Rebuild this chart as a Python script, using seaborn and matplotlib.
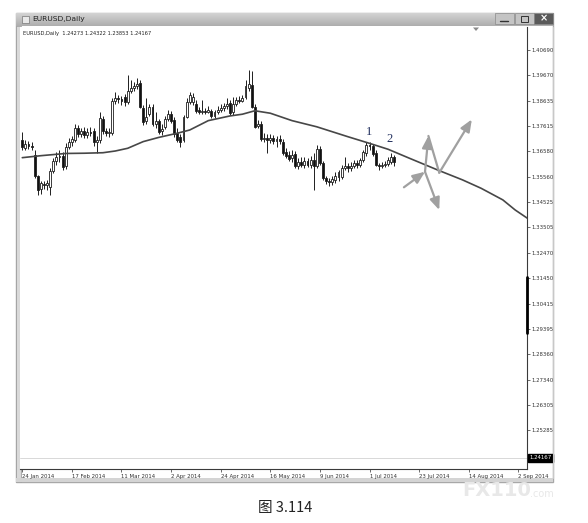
import numpy as np
import pandas as pd
import seaborn as sns
import matplotlib.pyplot as plt
from matplotlib.patches import Rectangle, Polygon

# EURUSD daily candles (bar 0 = 24 Jan 2014)
opens = [1.3705, 1.3672, 1.3688, 1.3680, 1.3644, 1.3559, 1.3506, 1.3526, 1.3522, 1.3514,
         1.3579, 1.3620, 1.3636, 1.3640, 1.3599, 1.3676, 1.3696, 1.3705, 1.3753, 1.3729,
         1.3741, 1.3725, 1.3737, 1.3741, 1.3696, 1.3705, 1.3790, 1.3741, 1.3733, 1.3733,
         1.3863, 1.3875, 1.3871, 1.3879, 1.3858, 1.3903, 1.3915, 1.3923, 1.3935, 1.3834,
         1.3782, 1.3810, 1.3838, 1.3769, 1.3782, 1.3741, 1.3757, 1.3790, 1.3810, 1.3786,
         1.3733, 1.3717, 1.3705, 1.3798, 1.3858, 1.3858, 1.3850, 1.3826, 1.3818, 1.3822,
         1.3818, 1.3822, 1.3802, 1.3818, 1.3826, 1.3834, 1.3842, 1.3854, 1.3818, 1.3850,
         1.3867, 1.3863, 1.3879, 1.3915, 1.3927, 1.3838, 1.3761, 1.3769, 1.3709, 1.3713,
         1.3705, 1.3713, 1.3700, 1.3709, 1.3696, 1.3656, 1.3644, 1.3632, 1.3648, 1.3599,
         1.3615, 1.3603, 1.3620, 1.3603, 1.3624, 1.3599, 1.3668, 1.3611, 1.3549, 1.3538,
         1.3534, 1.3543, 1.3555, 1.3555, 1.3591, 1.3599, 1.3591, 1.3599, 1.3611, 1.3603,
         1.3624, 1.3652, 1.3684, 1.3680, 1.3652, 1.3603, 1.3599, 1.3603, 1.3607, 1.3615, 1.3636]
highs = [1.3737, 1.3705, 1.3700, 1.3696, 1.3664, 1.3563, 1.3538, 1.3538, 1.3543, 1.3591,
         1.3632, 1.3656, 1.3664, 1.3656, 1.3692, 1.3713, 1.3721, 1.3769, 1.3765, 1.3753,
         1.3757, 1.3753, 1.3757, 1.3753, 1.3721, 1.3818, 1.3802, 1.3753, 1.3753, 1.3875,
         1.3899, 1.3887, 1.3883, 1.3891, 1.3968, 1.3948, 1.3939, 1.3956, 1.3948, 1.3846,
         1.3875, 1.3850, 1.3850, 1.3818, 1.3790, 1.3769, 1.3802, 1.3826, 1.3822, 1.3798,
         1.3753, 1.3729, 1.3806, 1.3875, 1.3899, 1.3895, 1.3867, 1.3838, 1.3867, 1.3834,
         1.3842, 1.3830, 1.3826, 1.3842, 1.3850, 1.3854, 1.3875, 1.3867, 1.3879, 1.3879,
         1.3883, 1.3887, 1.3948, 1.3988, 1.3984, 1.3850, 1.3786, 1.3782, 1.3733, 1.3729,
         1.3729, 1.3725, 1.3721, 1.3725, 1.3709, 1.3672, 1.3660, 1.3664, 1.3660, 1.3632,
         1.3636, 1.3636, 1.3632, 1.3640, 1.3652, 1.3684, 1.3680, 1.3620, 1.3559, 1.3551,
         1.3559, 1.3575, 1.3583, 1.3603, 1.3636, 1.3611, 1.3615, 1.3624, 1.3624, 1.3632,
         1.3664, 1.3696, 1.3696, 1.3688, 1.3664, 1.3611, 1.3615, 1.3620, 1.3636, 1.3652, 1.3644]
lows = [1.3664, 1.3664, 1.3668, 1.3664, 1.3551, 1.3482, 1.3486, 1.3506, 1.3502, 1.3482,
        1.3571, 1.3603, 1.3615, 1.3583, 1.3587, 1.3668, 1.3680, 1.3696, 1.3717, 1.3717,
        1.3713, 1.3713, 1.3721, 1.3680, 1.3652, 1.3692, 1.3729, 1.3721, 1.3717, 1.3725,
        1.3850, 1.3854, 1.3846, 1.3842, 1.3850, 1.3895, 1.3903, 1.3911, 1.3834, 1.3765,
        1.3769, 1.3802, 1.3761, 1.3753, 1.3729, 1.3725, 1.3749, 1.3782, 1.3773, 1.3717,
        1.3696, 1.3676, 1.3696, 1.3794, 1.3850, 1.3846, 1.3814, 1.3810, 1.3810, 1.3810,
        1.3814, 1.3794, 1.3794, 1.3810, 1.3818, 1.3822, 1.3830, 1.3806, 1.3806, 1.3842,
        1.3854, 1.3858, 1.3871, 1.3903, 1.3834, 1.3753, 1.3753, 1.3700, 1.3696, 1.3652,
        1.3692, 1.3688, 1.3676, 1.3688, 1.3644, 1.3632, 1.3620, 1.3615, 1.3591, 1.3587,
        1.3595, 1.3591, 1.3595, 1.3591, 1.3502, 1.3591, 1.3603, 1.3541, 1.3526, 1.3518,
        1.3522, 1.3530, 1.3538, 1.3547, 1.3583, 1.3575, 1.3579, 1.3591, 1.3591, 1.3595,
        1.3615, 1.3640, 1.3664, 1.3640, 1.3599, 1.3583, 1.3591, 1.3595, 1.3599, 1.3607, 1.3599]
closes = [1.3676, 1.3688, 1.3680, 1.3676, 1.3559, 1.3502, 1.3530, 1.3522, 1.3530, 1.3579,
          1.3620, 1.3636, 1.3640, 1.3595, 1.3676, 1.3696, 1.3709, 1.3753, 1.3729, 1.3741,
          1.3725, 1.3737, 1.3733, 1.3696, 1.3705, 1.3794, 1.3741, 1.3733, 1.3737, 1.3863,
          1.3875, 1.3871, 1.3863, 1.3858, 1.3903, 1.3915, 1.3923, 1.3931, 1.3838, 1.3777,
          1.3798, 1.3838, 1.3769, 1.3782, 1.3737, 1.3749, 1.3790, 1.3810, 1.3782, 1.3729,
          1.3705, 1.3696, 1.3798, 1.3858, 1.3887, 1.3879, 1.3822, 1.3818, 1.3822, 1.3818,
          1.3826, 1.3802, 1.3818, 1.3826, 1.3834, 1.3842, 1.3850, 1.3814, 1.3850, 1.3867,
          1.3863, 1.3875, 1.3923, 1.3931, 1.3838, 1.3757, 1.3769, 1.3709, 1.3713, 1.3705,
          1.3713, 1.3700, 1.3709, 1.3700, 1.3652, 1.3640, 1.3628, 1.3644, 1.3599, 1.3615,
          1.3603, 1.3620, 1.3603, 1.3624, 1.3599, 1.3668, 1.3611, 1.3549, 1.3538, 1.3534,
          1.3547, 1.3559, 1.3575, 1.3591, 1.3599, 1.3591, 1.3599, 1.3611, 1.3603, 1.3624,
          1.3656, 1.3684, 1.3680, 1.3648, 1.3603, 1.3599, 1.3603, 1.3607, 1.3624, 1.3636, 1.3615]

# moving average (runs on past the last visible candle)
ma_bar = [0, 6, 14, 20, 26, 30, 34, 39, 44, 50, 54, 60, 67, 71, 75, 80, 87, 95, 100,
          105, 112, 118, 125, 134, 142, 148, 155, 159, 163]
ma_val = [1.3633, 1.3641, 1.3650, 1.3651, 1.3653, 1.3660, 1.3671, 1.3698, 1.3715, 1.3732,
          1.3745, 1.3783, 1.3802, 1.3809, 1.3823, 1.3813, 1.3783, 1.3758, 1.3738,
          1.3718, 1.3691, 1.3667, 1.3630, 1.3583, 1.3543, 1.3509, 1.3462, 1.3421, 1.3387]

date_labels = ['24 Jan 2014', '17 Feb 2014', '11 Mar 2014', '2 Apr 2014', '24 Apr 2014',
               '16 May 2014', '9 Jun 2014', '1 Jul 2014', '23 Jul 2014', '14 Aug 2014',
               '2 Sep 2014']
price_ticks = [1.40690, 1.39670, 1.38635, 1.37615, 1.36580, 1.35560, 1.34525, 1.33505,
               1.32470, 1.31450, 1.30415, 1.29395, 1.28360, 1.27340, 1.26305, 1.25285]
last_price = 1.24167
header = 'EURUSD,Daily  1.24273 1.24322 1.23853 1.24167'

# hand drawn arrows: (start, end, with head)
arrows = [((123.1, 1.3513), (129.9, 1.3576), True),
          ((129.9, 1.3576), (131.0, 1.3721), True),
          ((131.0, 1.3721), (134.5, 1.3572), False),
          ((134.5, 1.3572), (145.0, 1.3788), True),
          ((129.9, 1.3576), (134.5, 1.3421), True)]
marks = [(112, 1.3735, '1'), (118.6, 1.3709, '2')]

W, H = 588, 523
def fx(px):
    return px / W
def fy(py):
    return 1 - py / H

sns.set_style('white')
plt.rcParams['font.family'] = ['DejaVu Sans', 'Noto Sans CJK SC']

fig = plt.figure(figsize=(W / 100, H / 100), dpi=100)

# window frame (kept behind the chart axes)
fig.patches.append(Rectangle((fx(16), fy(482)), fx(553) - fx(16), fy(13) - fy(482),
                             transform=fig.transFigure, fc='white', ec='#a8a8a8', lw=1,
                             zorder=-5))
fig.patches.append(Rectangle((fx(16), fy(482)), fx(21) - fx(16), fy(26) - fy(482),
                             transform=fig.transFigure, fc='#d9d9d9', ec='#a0a0a0', lw=0.6,
                             zorder=-4))
fig.patches.append(Rectangle((fx(16), fy(482)), fx(553) - fx(16), fy(478) - fy(482),
                             transform=fig.transFigure, fc='#d4d4d4', ec='none', zorder=-4))

# title bar with gradient
tb = fig.add_axes([fx(16), fy(26.5), fx(553) - fx(16), fy(13) - fy(26.5)])
grad = np.linspace(0.84, 0.68, 30).reshape(-1, 1)
tb.imshow(np.repeat(grad, 2, axis=1), cmap='gray', vmin=0, vmax=1, aspect='auto',
          extent=[0, 1, 0, 1])
tb.set_axis_off()
fig.text(fx(32), fy(19.5), 'EURUSD,Daily', fontsize=5.4, color='#222', va='center')
fig.patches.append(Rectangle((fx(22), fy(23)), fx(7), fy(0) - fy(7),
                             transform=fig.transFigure, fc='#e8e8e8', ec='#777', lw=0.5))
for x0, fc in [(495, '#c4c4c4'), (515, '#c4c4c4'), (534, '#5a5a5a')]:
    fig.patches.append(Rectangle((fx(x0), fy(24)), fx(18.5), fy(0) - fy(11),
                                 transform=fig.transFigure, fc=fc, ec='#8a8a8a', lw=0.5))
fig.lines.append(plt.Line2D([fx(500), fx(508)], [fy(20.5), fy(20.5)], transform=fig.transFigure,
                            color='#333', lw=1))
fig.patches.append(Rectangle((fx(520.5), fy(22)), fx(7), fy(0) - fy(6),
                             transform=fig.transFigure, fc='none', ec='#333', lw=0.7))
fig.text(fx(543.5), fy(18.5), '×', fontsize=7, color='white', ha='center', va='center',
         weight='bold')

# chart area
ax = fig.add_axes([fx(20), fy(469), fx(527) - fx(20), fy(27) - fy(469)])
ax.set_facecolor('white')

df = pd.DataFrame({'open': opens, 'high': highs, 'low': lows, 'close': closes})
df['bar'] = np.arange(len(df))
df['up'] = df['close'] >= df['open']

ax.axhline(last_price, color='#d2d2d2', lw=0.6, zorder=1)
ax.vlines(df['bar'], df['low'], df['high'], color='#1e1e1e', lw=0.7, zorder=2)
body_bottom = np.minimum(df['open'], df['close'])
body_height = (df['close'] - df['open']).abs()
ax.bar(df['bar'], body_height, bottom=body_bottom, width=0.62,
       color=np.where(df['up'], 'white', '#111111'), edgecolor='#1e1e1e', lw=0.6, zorder=3)

ma_df = pd.DataFrame({'bar': ma_bar, 'ma': ma_val})
sns.lineplot(data=ma_df, x='bar', y='ma', ax=ax, color='#474747', lw=1.2, zorder=4)

for start, end, head in arrows:
    ax.annotate('', xy=end, xytext=start,
                arrowprops=dict(arrowstyle='-|>,head_length=0.6,head_width=0.25' if head else '-',
                                color='#a0a0a0', lw=1.6, mutation_scale=12,
                                shrinkA=0, shrinkB=0), zorder=5)
for bx, py, t in marks:
    ax.text(bx, py, t, fontsize=9, family='Liberation Serif', color='#1f2d5c',
            ha='center', va='center', zorder=6)

ax.set_xlim(-0.74, 162.8)
ax.set_ylim(1.23721, 1.41622)
ax.set_xlabel('')
ax.set_ylabel('')

ax.set_xticks(range(0, 161, 16))
ax.set_xticklabels(date_labels)
for lbl in ax.get_xticklabels():
    lbl.set_ha('left')
ax.yaxis.tick_right()
ax.set_yticks(price_ticks)
ax.set_yticklabels([f'{v:.5f}' for v in price_ticks])
ax.tick_params(axis='both', labelsize=3.9, colors='#333333', length=2, width=0.5, pad=1.5,
               direction='out')
ax.tick_params(axis='x', bottom=True)
ax.tick_params(axis='y', right=True, left=False)
for s in ['top', 'left']:
    ax.spines[s].set_visible(False)
for s in ['right', 'bottom']:
    ax.spines[s].set_color('#3a3a3a')
    ax.spines[s].set_linewidth(0.8)

ax.text(1.004, last_price, f'{last_price:.5f}', transform=ax.get_yaxis_transform(),
        ha='left', va='center', fontsize=3.9, color='white',
        bbox=dict(boxstyle='square,pad=0.25', fc='black', ec='black'))
ax.plot([1, 1], [1.2923, 1.3150], transform=ax.get_yaxis_transform(), color='black',
        lw=2, clip_on=False, zorder=6)
ax.text(0.005, 0.99, header, transform=ax.transAxes, fontsize=3.7, color='#222',
        ha='left', va='top')

# right edge of the price scale and shift marker
fig.lines.append(plt.Line2D([fx(553), fx(553)], [fy(27), fy(478)], transform=fig.transFigure,
                            color='#c8c8c8', lw=0.8))
fig.patches.append(Polygon([(fx(473), fy(27.5)), (fx(479), fy(27.5)), (fx(476), fy(31))],
                           closed=True, transform=fig.transFigure, fc='#8a8a8a', ec='none'))

# watermark and caption
fig.text(fx(462), fy(491), 'FX110', fontsize=14, weight='bold', color='#e8e8e8', va='center')
fig.text(fx(530), fy(494), '.com', fontsize=7, color='#e8e8e8', va='center')
fig.text(fx(285), fy(508), '图 3.114', ha='center', va='center', fontsize=10.5,
         family=['Noto Sans CJK SC'], color='#222222')

fig.savefig('out.png', dpi=100)
